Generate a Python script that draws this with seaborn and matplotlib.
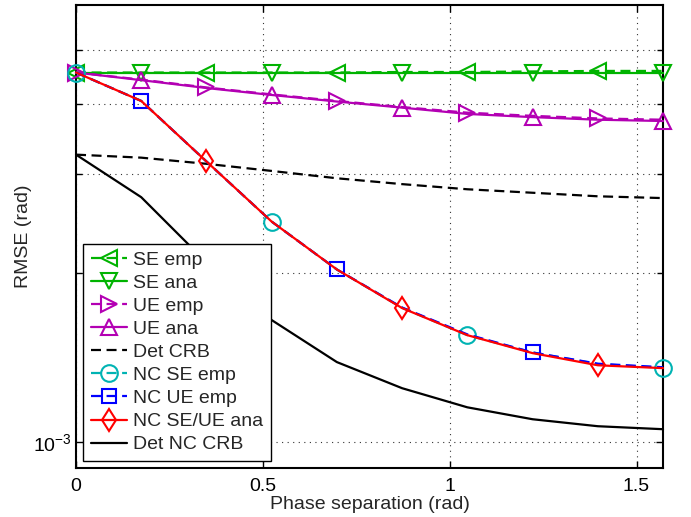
import numpy as np
import matplotlib
matplotlib.use("Agg")
import matplotlib.pyplot as plt
from matplotlib.lines import Line2D
from matplotlib.ticker import FixedLocator, NullFormatter, LogFormatterMathtext
import seaborn as sns

# ---- data ----
phase = [0.0, 0.1745, 0.3491, 0.5236, 0.6981, 0.8727, 1.0472, 1.2217, 1.3963, 1.5708]

se_emp = [4.55e-3, 4.55e-3, 4.55e-3, 4.55e-3, 4.55e-3, 4.56e-3, 4.56e-3, 4.57e-3, 4.58e-3, 4.58e-3]
se_ana = [4.55e-3, 4.55e-3, 4.55e-3, 4.55e-3, 4.55e-3, 4.55e-3, 4.55e-3, 4.55e-3, 4.55e-3, 4.55e-3]
ue_emp = [4.55e-3, 4.42e-3, 4.28e-3, 4.16e-3, 4.05e-3, 3.95e-3, 3.86e-3, 3.81e-3, 3.77e-3, 3.75e-3]
ue_ana = [4.55e-3, 4.41e-3, 4.27e-3, 4.15e-3, 4.04e-3, 3.94e-3, 3.84e-3, 3.79e-3, 3.75e-3, 3.73e-3]
det_crb = [3.25e-3, 3.21e-3, 3.13e-3, 3.04e-3, 2.95e-3, 2.88e-3, 2.82e-3, 2.78e-3, 2.74e-3, 2.72e-3]
nc_se_emp = [4.55e-3, 4.05e-3, 3.16e-3, 2.47e-3, 2.03e-3, 1.735e-3, 1.551e-3, 1.445e-3, 1.378e-3, 1.357e-3]
nc_ue_emp = [4.55e-3, 4.05e-3, 3.16e-3, 2.47e-3, 2.03e-3, 1.737e-3, 1.556e-3, 1.445e-3, 1.380e-3, 1.360e-3]
nc_ana = [4.55e-3, 4.05e-3, 3.16e-3, 2.47e-3, 2.03e-3, 1.733e-3, 1.551e-3, 1.441e-3, 1.371e-3, 1.355e-3]
det_nc_crb = [3.25e-3, 2.73e-3, 2.09e-3, 1.65e-3, 1.389e-3, 1.248e-3, 1.154e-3, 1.099e-3, 1.068e-3, 1.055e-3]

labels = ["SE emp", "SE ana", "UE emp", "UE ana", "Det CRB",
          "NC SE emp", "NC UE emp", "NC SE/UE ana", "Det NC CRB"]
y_major = [1e-3]
y_minor = [2e-3, 3e-3, 4e-3, 5e-3]
x_ticks = [0, 0.5, 1, 1.5]
x_ticklabels = ["0", "0.5", "1", "1.5"]

# ---- styling ----
sns.set_style("white")
plt.rcParams["font.family"] = ["Liberation Sans", "DejaVu Sans"]
plt.rcParams["mathtext.fontset"] = "custom"
plt.rcParams["mathtext.rm"] = "Liberation Sans"
plt.rcParams["mathtext.it"] = "Liberation Sans"

GREEN = "#00b300"
MAG = "#b300b3"
CYAN = "#00b3b3"
BLUE = "#0000ff"
RED = "#ff0000"
LW = 1.6
MEW = 1.5
DASH = (4.5, 2.5)

series = [
    dict(y=se_emp, color=GREEN, ls="--", marker="<", ms=11, every=[0, 2, 4, 6, 8]),
    dict(y=se_ana, color=GREEN, ls="-", marker="v", ms=11, every=[1, 3, 5, 7, 9]),
    dict(y=ue_emp, color=MAG, ls="--", marker=">", ms=11, every=[0, 2, 4, 6, 8]),
    dict(y=ue_ana, color=MAG, ls="-", marker="^", ms=11, every=[1, 3, 5, 7, 9]),
    dict(y=det_crb, color="black", ls="--", marker=None, ms=0, every=None),
    dict(y=nc_se_emp, color=CYAN, ls="--", marker="o", ms=12, every=[0, 3, 6, 9]),
    dict(y=nc_ue_emp, color=BLUE, ls="--", marker="s", ms=9.5, every=[1, 4, 7]),
    dict(y=nc_ana, color=RED, ls="-", marker="d", ms=11.5, every=[2, 5, 8]),
    dict(y=det_nc_crb, color="black", ls="-", marker=None, ms=0, every=None),
]

fig = plt.figure(figsize=(6.91, 5.17), dpi=100)
ax = fig.add_axes([0.110, 0.0948, 0.8495, 0.8955])

handles = []
for s, lab in zip(series, labels):
    kw = dict(color=s["color"], linewidth=LW, markersize=s["ms"],
              markerfacecolor="none", markeredgecolor=s["color"],
              markeredgewidth=MEW)
    if s["ls"] == "--":
        kw["dashes"] = DASH
    else:
        kw["linestyle"] = "-"
    if s["marker"] is not None:
        kw["marker"] = s["marker"]
        kw["markevery"] = s["every"]
    sns.lineplot(x=phase, y=s["y"], ax=ax, legend=False, clip_on=False, **kw)
    hk = dict(kw)
    hk.pop("markevery", None)
    h = Line2D([], [], **hk)
    handles.append(h)

ax.set_yscale("log")
ax.set_xlim(0, 1.5708)
ax.set_ylim(9e-4, 6e-3)
ax.xaxis.set_major_locator(FixedLocator(x_ticks))
ax.set_xticklabels(x_ticklabels)
ax.yaxis.set_major_locator(FixedLocator(y_major))
ax.yaxis.set_major_formatter(LogFormatterMathtext())
ax.yaxis.set_minor_locator(FixedLocator(y_minor))
ax.yaxis.set_minor_formatter(NullFormatter())

ax.grid(True, which="both", axis="y", linestyle=(0, (1, 4)), color="#333333", linewidth=0.8)
ax.grid(True, which="major", axis="x", linestyle=(0, (1, 4)), color="#333333", linewidth=0.8)

for sp in ax.spines.values():
    sp.set_visible(True)
    sp.set_color("black")
    sp.set_linewidth(1.5)
    sp.set_zorder(1.5)

ax.tick_params(which="both", direction="in", top=True, right=True, bottom=True, left=True,
               labelsize=14, colors="black")
ax.tick_params(which="major", length=5, width=1, pad=7)
ax.tick_params(which="minor", length=4, width=1)
ax.tick_params(axis="y", which="major", pad=3)

ax.set_xlabel("Phase separation (rad)", fontsize=14, labelpad=1)
ax.set_ylabel("RMSE (rad)", fontsize=14, labelpad=1)

leg = ax.legend(handles, labels, loc="lower left", fontsize=14, numpoints=1,
                handlelength=1.85, handletextpad=0.35, labelspacing=0.28,
                borderaxespad=0.35, borderpad=0.4, fancybox=False, framealpha=1,
                edgecolor="black")
leg.get_frame().set_linewidth(1.0)
leg.set_zorder(5)

fig.savefig("out.png", dpi=100)
